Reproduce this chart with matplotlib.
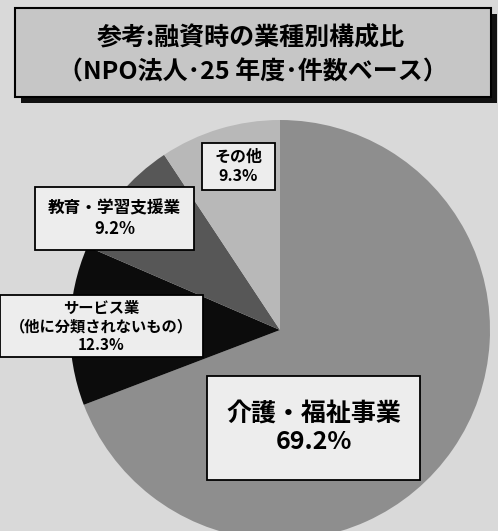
import matplotlib.pyplot as plt
from matplotlib.patches import Rectangle

plt.rcParams['font.family'] = ['Noto Sans CJK JP', 'DejaVu Sans']

# データ（12時方向から時計回り）
gyoshu = ["介護・福祉事業", "サービス業\n（他に分類されないもの）", "教育・学習支援業", "その他"]
hiritsu = [69.2, 12.3, 9.2, 9.3]
iro = ["#8e8e8e", "#0c0c0c", "#575757", "#b8b8b8"]

W, H = 498, 531
fig = plt.figure(figsize=(W / 100, H / 100), dpi=100)
fig.patch.set_facecolor("#d9d9d9")


def fx(x):
    return x / W


def fy(y):
    return 1 - y / H


def waku(x0, y0, x1, y1, fc, lw=1.3, z=3):
    r = Rectangle((fx(x0), fy(y1)), fx(x1) - fx(x0), fy(y0) - fy(y1),
                  transform=fig.transFigure, facecolor=fc, edgecolor="black",
                  linewidth=lw, zorder=z)
    fig.patches.append(r)


# 円グラフ
cx, cy, r = 280, 330, 210
ax = fig.add_axes([fx(cx - r), fy(cy + r), fx(2 * r), (2 * r) / H])
ax.pie(hiritsu, colors=iro, startangle=90, counterclock=False,
       wedgeprops=dict(linewidth=0))
ax.set_xlim(-1, 1)
ax.set_ylim(-1, 1)
ax.set_aspect("auto")
ax.axis("off")

# タイトル枠（影付き）
waku(21, 14, 497, 103, "#111111", lw=0, z=1)
waku(15, 8, 491, 97, "#c6c6c6", lw=1.5, z=2)
fig.text(fx(251), fy(38), "参考:融資時の業種別構成比", ha="center", va="center",
         fontsize=18, fontweight="bold", zorder=4)
fig.text(fx(253), fy(72), "（NPO法人･25 年度･件数ベース）", ha="center", va="center",
         fontsize=18, fontweight="bold", zorder=4)

# ラベル枠
labels = [f"{g}\n{v}%" for g, v in zip(gyoshu, hiritsu)]
boxes = [(207, 376, 420, 480), (0, 295, 203, 357), (35, 187, 194, 250), (202, 143, 275, 190)]
sizes = [18, 11, 12, 11.5]
for lab, (x0, y0, x1, y1), fs in zip(labels, boxes, sizes):
    waku(x0, y0, x1, y1, "#ededed", lw=1.3, z=3)
    fig.text(fx((x0 + x1) / 2), fy((y0 + y1) / 2), lab, ha="center", va="center",
             fontsize=fs, fontweight="bold", linespacing=1.2, zorder=4)

fig.savefig("out.png", dpi=100, facecolor=fig.get_facecolor())
